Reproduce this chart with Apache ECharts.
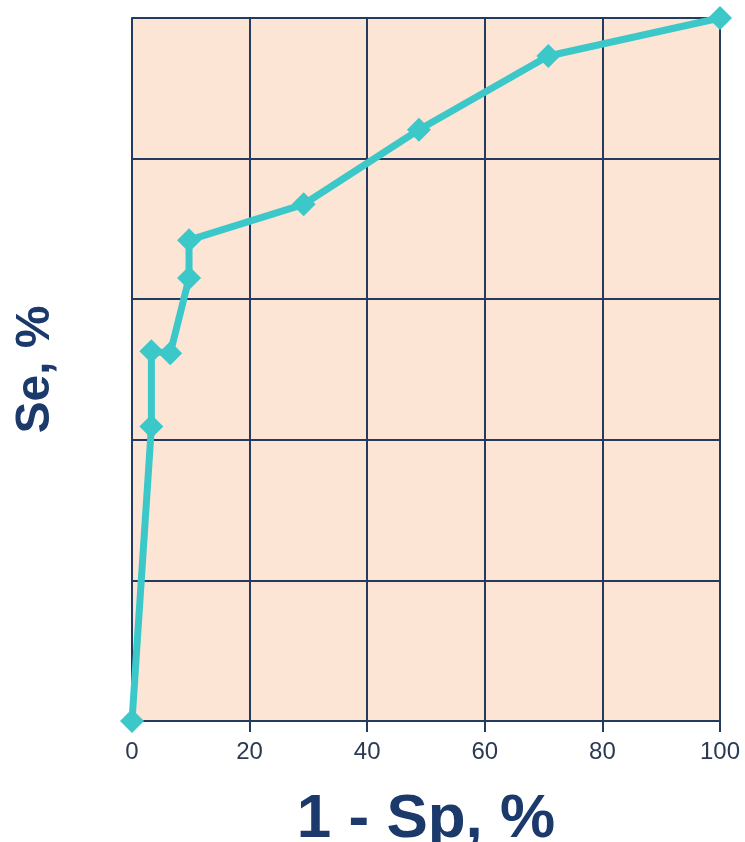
<!DOCTYPE html>
<html>
<head>
<meta charset="utf-8">
<script src="https://cdn.jsdelivr.net/npm/echarts@6/dist/echarts.min.js"></script>
<style>html,body{margin:0;padding:0;background:#fff}#c{width:745px;height:842px}</style>
</head>
<body>
<div id="c"></div>
<script>
const xValues = [0, 3.3, 3.3, 6.5, 9.7, 9.7, 29.2, 48.8, 70.8, 100];
const yValues = [0, 41.9, 52.6, 52.3, 63.0, 68.4, 73.5, 84.1, 94.6, 100];
const xTicks = [0, 20, 40, 60, 80, 100];
const xTitle = '1 - Sp, %';
const yTitle = 'Se, %';

const gridColor = '#243a5e';
const textColor = '#1b3a6b';
const chart = echarts.init(document.getElementById('c'));
chart.setOption({
  animation: false,
  grid: {left: 132, right: 25, top: 18, bottom: 121, show: true, backgroundColor: '#fde5d6', borderWidth: 0,
    containLabel: false, outerBoundsMode: 'none'},
  xAxis: {
    type: 'value', min: 0, max: 100, interval: 20,
    name: xTitle, nameLocation: 'middle', nameGap: 68,
    nameTextStyle: {fontFamily: 'Liberation Sans', fontWeight: 'bold', fontSize: 62, color: textColor},
    axisLine: {show: true, lineStyle: {color: gridColor, width: 2}},
    axisTick: {show: true, length: 11, lineStyle: {color: gridColor, width: 2}},
    axisLabel: {fontFamily: 'Liberation Sans', fontSize: 24, color: '#2b3a52', margin: 19,
      formatter: v => xTicks.includes(v) ? String(v) : ''},
    splitLine: {show: true, lineStyle: {color: gridColor, width: 2}}
  },
  yAxis: {
    type: 'value', min: 0, max: 100, interval: 20,
    name: yTitle, nameLocation: 'middle', nameGap: 72,
    nameTextStyle: {fontFamily: 'Liberation Sans', fontWeight: 'bold', fontSize: 48, color: textColor},
    axisLine: {show: true, lineStyle: {color: gridColor, width: 2}},
    axisTick: {show: false},
    axisLabel: {show: false},
    splitLine: {show: true, lineStyle: {color: gridColor, width: 2}}
  },
  series: [{
    type: 'line',
    data: xValues.map((x, i) => [x, yValues[i]]),
    symbol: 'diamond', symbolSize: 24,
    lineStyle: {color: '#3cc8c8', width: 7},
    itemStyle: {color: '#3cc8c8'},
    clip: false, z: 5
  }]
});
</script>
</body>
</html>
